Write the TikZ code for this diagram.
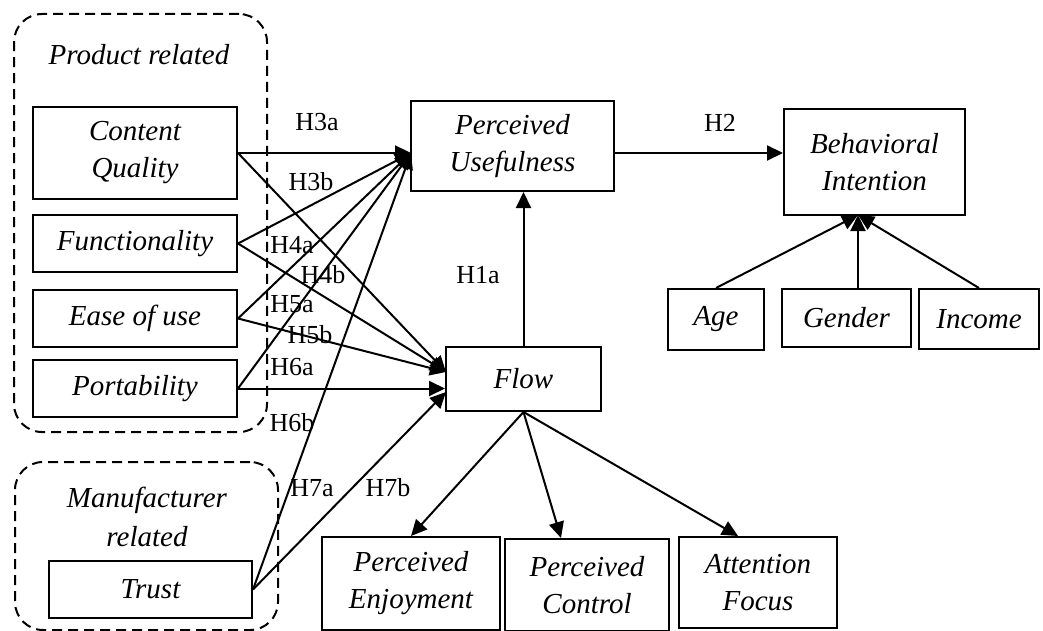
\documentclass[tikz,border=0pt]{standalone}
\usepackage{fontspec}
\setmainfont{Liberation Serif}
\usetikzlibrary{arrows.meta}

\begin{document}
\begin{tikzpicture}[
    x=0.5pt, y=-0.5pt,
    >={Triangle[length=8pt, width=7.5pt]},
    var_box/.style={draw, line width=1pt, rectangle, fill=white, inner sep=1pt, align=center, font=\fontsize{14.5}{18.5}\selectfont\itshape},
    group_box/.style={draw, line width=1pt, dash pattern=on 5pt off 3pt, rounded corners=14pt, rectangle},
    group_title/.style={font=\fontsize{14.5}{19.5}\selectfont\itshape, align=center},
    path_arrow/.style={->, line width=1pt},
    hyp_label/.style={font=\fontsize{13}{15}\selectfont, inner sep=0pt}
]
\useasboundingbox (0,0) rectangle (1043,631);

% 1. dashed groups
\node[group_box, minimum width=126.5pt, minimum height=209pt] (prod_grp) at (140.5,223) {};
\node[group_box, minimum width=131.5pt, minimum height=84pt] (manu_grp) at (146.5,546) {};
\node[group_title] (prod_title) at (139,55) {Product related};
\node[group_title] (manu_title) at (147,517) {Manufacturer\\related};

% 2. variables
\node[var_box, minimum width=102pt, minimum height=46pt] (cq) at (135,153) {Content\\Quality};
\node[var_box, minimum width=102pt, minimum height=28.5pt] (func) at (135,243.5) {Functionality};
\node[var_box, minimum width=102pt, minimum height=28.5pt] (ease) at (135,318.5) {Ease of use};
\node[var_box, minimum width=102pt, minimum height=28.5pt] (port) at (135,388.5) {Portability};
\node[var_box, minimum width=101.5pt, minimum height=28.5pt] (trust) at (150.5,589.5) {Trust};

\node[var_box, minimum width=101.5pt, minimum height=45pt] (pu) at (512.5,146) {Perceived\\Usefulness};
\node[var_box, minimum width=77.5pt, minimum height=32pt] (flow) at (523.5,379) {Flow};
\node[var_box, minimum width=90.5pt, minimum height=53pt] (bi) at (874.5,162) {Behavioral\\Intention};

\node[var_box, minimum width=48pt, minimum height=30.5pt] (age) at (716,319.5) {Age};
\node[var_box, minimum width=64.5pt, minimum height=29pt] (gender) at (846.5,318) {Gender};
\node[var_box, minimum width=60pt, minimum height=30pt] (income) at (979,319) {Income};

\node[var_box, minimum width=89pt, minimum height=46.5pt] (pe) at (411,583.5) {Perceived\\Enjoyment};
\node[var_box, minimum width=82pt, minimum height=46pt] (pc) at (587,585) {Perceived\\Control};
\node[var_box, minimum width=79pt, minimum height=45.5pt] (af) at (758,582.5) {Attention\\Focus};

% 3. meeting points of the arrows
\coordinate (pu_in) at (411,153);
\coordinate (flow_in) at (446,372);
\coordinate (trust_in) at (446,392);
\coordinate (bi_in) at (858,215);

% 4. paths into Perceived Usefulness
\draw[path_arrow] (cq.east) -- (pu_in);
\draw[path_arrow] (func.east) -- (pu_in);
\draw[path_arrow] (ease.east) -- (pu_in);
\draw[path_arrow] (port.east) -- (pu_in);
\draw[path_arrow] (trust.east) -- (pu_in);

% 5. paths into Flow
\draw[path_arrow] (cq.east) -- (flow_in);
\draw[path_arrow] (func.east) -- (flow_in);
\draw[path_arrow] (ease.east) -- (flow_in);
\draw[path_arrow] (port.east) -- (flow.west |- port.east);
\draw[path_arrow] (trust.east) -- (trust_in);

% 6. the rest
\draw[path_arrow] (flow.north) -- (flow.north |- pu.south);
\draw[path_arrow] (pu.east |- pu_in) -- (bi.west |- pu_in);
\draw[path_arrow] (age.north) -- (bi_in);
\draw[path_arrow] (bi_in |- gender.north) -- (bi_in);
\draw[path_arrow] (income.north) -- (bi_in);
\draw[path_arrow] (flow.south) -- (pe.north);
\draw[path_arrow] (flow.south) -- ([xshift=-13pt]pc.north);
\draw[path_arrow] (flow.south) -- ([xshift=-10pt]af.north);

% 7. hypothesis labels
\node[hyp_label] (h3a) at (317,122) {H3a};
\node[hyp_label] (h3b) at (311,182) {H3b};
\node[hyp_label] (h4a) at (292,245) {H4a};
\node[hyp_label] (h4b) at (323,275) {H4b};
\node[hyp_label] (h5a) at (292,304) {H5a};
\node[hyp_label] (h5b) at (310,335) {H5b};
\node[hyp_label] (h6a) at (292,367) {H6a};
\node[hyp_label] (h6b) at (292,423) {H6b};
\node[hyp_label] (h7a) at (312,488) {H7a};
\node[hyp_label] (h7b) at (388,488) {H7b};
\node[hyp_label] (h1a) at (478,275) {H1a};
\node[hyp_label] (h2) at (720,123) {H2};

\end{tikzpicture}
\end{document}
